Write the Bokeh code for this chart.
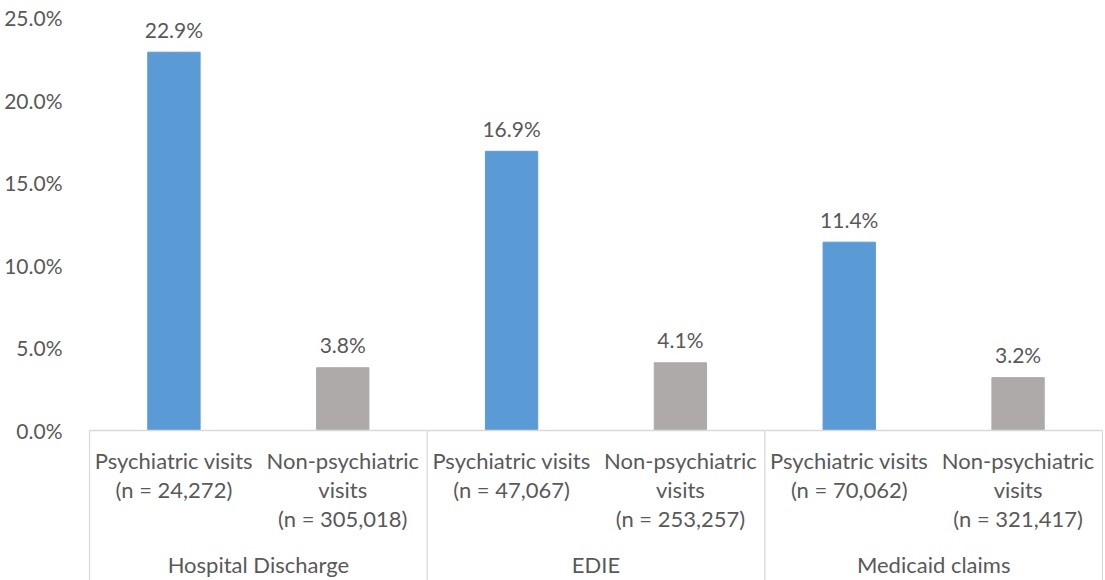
from bokeh.plotting import figure
from bokeh.models import Range1d, FixedTicker, PrintfTickFormatter, ColumnDataSource
from bokeh.core.properties import value
from bokeh.embed import file_html
from bokeh.resources import INLINE

# ---- data ----
groups = ["Hospital Discharge", "EDIE", "Medicaid claims"]
visit_types = ["Psychiatric visits", "Non-psychiatric visits"]
n_counts = ["24,272", "305,018", "47,067", "253,257", "70,062", "321,417"]
pct = [22.9, 3.8, 16.9, 4.1, 11.4, 3.2]
bar_colors = ["#5B9BD5", "#AEAAAA"]
y_ticks = [0, 5, 10, 15, 20, 25]

FONT = "Lato"
TXT = "#595959"
FS_NUM = "21px"
FS_TXT = "22px"

n_cat = len(groups) * len(visit_types)
xs = [i + 0.5 for i in range(n_cat)]
colors = [bar_colors[i % 2] for i in range(n_cat)]
Y0 = -9.08

p = figure(width=1103, height=580, output_backend="svg", toolbar_location=None,
           x_axis_location=None,
           x_range=Range1d(-0.006, n_cat + 0.006), y_range=Range1d(Y0, 25),
           min_border_left=88, min_border_right=0, min_border_top=17, min_border_bottom=0)
p.outline_line_color = None
p.grid.visible = False
p.background_fill_color = "white"

ya = p.yaxis[0]
ya.ticker = FixedTicker(ticks=y_ticks)
ya.formatter = PrintfTickFormatter(format="%.1f%%")
ya.axis_line_color = None
ya.major_tick_line_color = None
ya.minor_tick_line_color = None
ya.major_tick_in = 0
ya.major_tick_out = 0
ya.major_label_standoff = 26
ya.major_label_text_font = FONT
ya.major_label_text_font_size = FS_NUM
ya.major_label_text_color = TXT

src = ColumnDataSource(dict(x=xs, top=pct, color=colors,
                            label=[f"{v:.1f}%" for v in pct]))
p.vbar(x="x", top="top", bottom=0, width=0.31, color="color", source=src)
p.text(x="x", y="top", text="label", source=src, text_align="center",
       text_baseline="middle", y_offset=-23, text_font=value(FONT),
       text_font_size=FS_NUM, text_color=TXT)

# axis line and group separators
p.segment(x0=[0], y0=[0], x1=[n_cat], y1=[0], line_color="#D9D9D9", line_width=1.3)
seps = [i * len(visit_types) for i in range(len(groups) + 1)]
p.segment(x0=seps, y0=[0] * len(seps), x1=seps, y1=[Y0] * len(seps),
          line_color="#D9D9D9", line_width=1.3)

# category labels (wrapped as in the original)
lx, ly, lt, loff = [], [], [], []
row_off = [30, 59, 88]
for i in range(n_cat):
    vt = visit_types[i % 2]
    if i % 2 == 0:
        lines = [vt, f"(n = {n_counts[i]})"]
    else:
        lines = ["Non-psychiatric", "visits", f"(n = {n_counts[i]})"]
    for r, t in enumerate(lines):
        lx.append(xs[i]); ly.append(0); lt.append(t); loff.append(row_off[r])
lsrc = ColumnDataSource(dict(x=lx, y=ly, t=lt, off=loff))
p.text(x="x", y="y", text="t", y_offset="off", source=lsrc, text_align="center",
       text_baseline="middle", text_font=value(FONT), text_font_size=FS_TXT, text_color=TXT)

gx = [i * len(visit_types) + len(visit_types) / 2 for i in range(len(groups))]
p.text(x=gx, y=[0] * len(groups), text=groups, y_offset=134, text_align="center",
       text_baseline="middle", text_font=value(FONT), text_font_size=FS_TXT, text_color=TXT)

open("out.html", "w").write(file_html(p, INLINE))
